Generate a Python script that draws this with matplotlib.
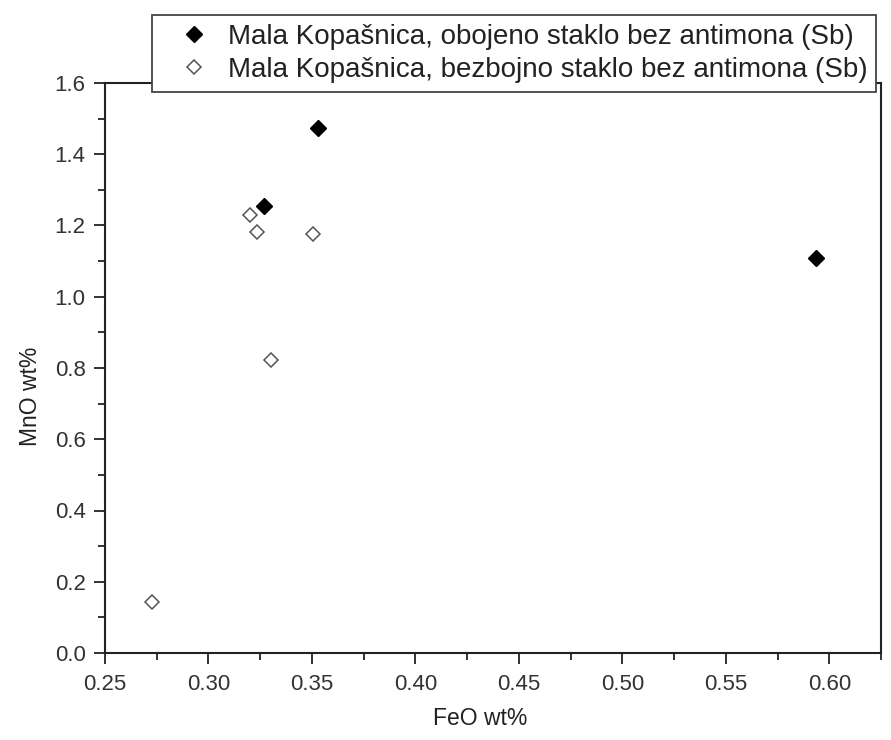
import matplotlib
matplotlib.use("Agg")
import matplotlib.pyplot as plt
from matplotlib.ticker import MultipleLocator, FormatStrFormatter

plt.rcParams['font.family'] = ['Liberation Sans', 'DejaVu Sans']

colored_feo = [0.353, 0.327, 0.5935]
colored_mno = [1.474, 1.255, 1.110]
colorless_feo = [0.320, 0.3235, 0.3505, 0.330, 0.2728]
colorless_mno = [1.229, 1.182, 1.176, 0.822, 0.142]

label_colored = "Mala Kopašnica, obojeno staklo bez antimona (Sb)"
label_colorless = "Mala Kopašnica, bezbojno staklo bez antimona (Sb)"

fig = plt.figure(figsize=(8.91, 7.40), dpi=100)
ax = fig.add_axes([105/891, 1 - 653/740, (881-105)/891, (653-83)/740])

ax.plot(colored_feo, colored_mno, linestyle='none', marker='D', markersize=8,
        markerfacecolor='black', markeredgecolor='black', label=label_colored)
ax.plot(colorless_feo, colorless_mno, linestyle='none', marker='D', markersize=7.5,
        markerfacecolor='white', markeredgecolor='#555555', markeredgewidth=1.1,
        label=label_colorless)

ax.set_xlim(0.25, 0.625)
ax.set_ylim(0.0, 1.6)
ax.xaxis.set_major_locator(MultipleLocator(0.05))
ax.xaxis.set_minor_locator(MultipleLocator(0.025))
ax.yaxis.set_major_locator(MultipleLocator(0.2))
ax.yaxis.set_minor_locator(MultipleLocator(0.1))
ax.xaxis.set_major_formatter(FormatStrFormatter('%.2f'))
ax.yaxis.set_major_formatter(FormatStrFormatter('%.1f'))

ax.tick_params(which='major', direction='out', length=8, width=1.3, labelsize=16,
               colors='#222222', labelcolor='#333333', top=False, right=False)
ax.tick_params(which='minor', direction='out', length=5, width=1.3, top=False, right=False,
               colors='#222222')
ax.tick_params(axis='x', which='major', pad=7)
ax.tick_params(axis='y', which='major', pad=6)
for sp in ax.spines.values():
    sp.set_linewidth(1.5)
    sp.set_color('#222222')

ax.set_xlabel("FeO wt%", fontsize=16.5, color='#222222')
ax.set_ylabel("MnO wt%", fontsize=16.5, color='#222222')
ax.xaxis.set_label_coords(0.483, -0.095)
ax.yaxis.set_label_coords(-0.081, 0.451)

leg = ax.legend(loc='upper left', bbox_to_anchor=(152/891, 1 - 15/740),
                bbox_transform=fig.transFigure, borderaxespad=0, fontsize=20,
                frameon=True, fancybox=False, edgecolor='#444444', framealpha=1,
                handlelength=2.35, handletextpad=0.05, borderpad=0.32, labelspacing=0.25)
leg.get_frame().set_linewidth(1.3)
for t in leg.get_texts():
    t.set_color('#222222')

fig.savefig("out.png", dpi=100)
